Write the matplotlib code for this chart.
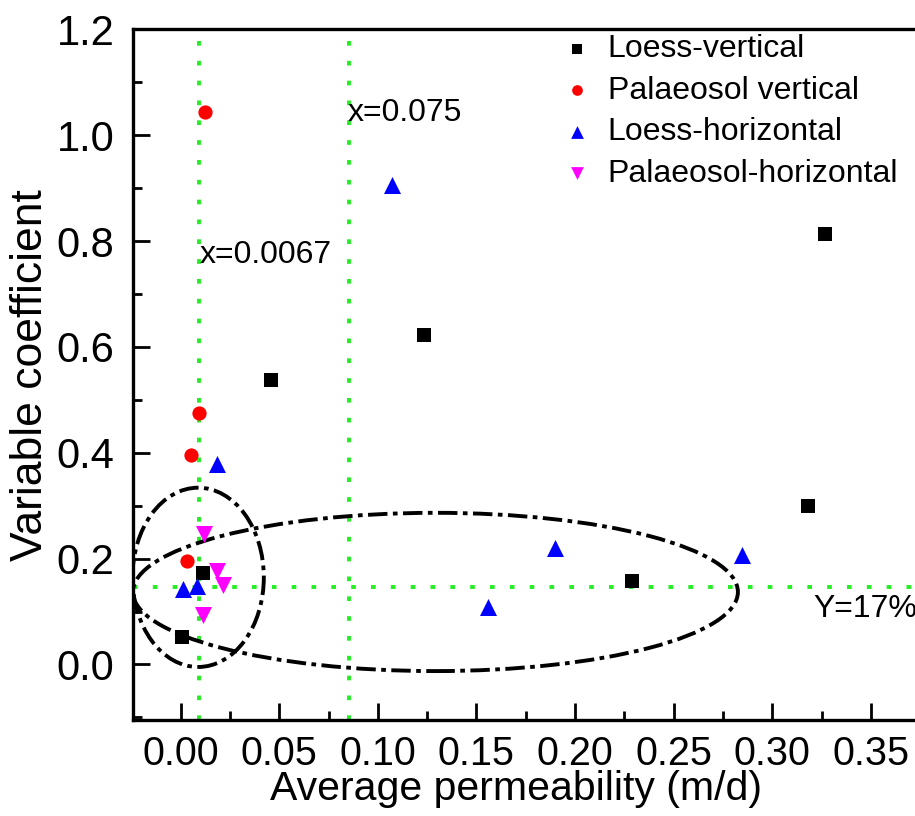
import matplotlib
matplotlib.use("Agg")
import matplotlib.pyplot as plt
from matplotlib.patches import Ellipse
from matplotlib.ticker import MultipleLocator, FormatStrFormatter

plt.rcParams['font.family'] = ['Liberation Sans', 'DejaVu Sans']

# ---- data ----
loess_v_x = [0.0458, 0.1234, 0.3267, 0.3183, 0.2287, 0.0113, 0.0005]
loess_v_y = [0.538, 0.623, 0.813, 0.300, 0.157, 0.173, 0.052]

palaeo_v_x = [0.0123, 0.0093, 0.0051, 0.0030]
palaeo_v_y = [1.044, 0.476, 0.395, 0.196]

loess_h_x = [0.1070, 0.0184, 0.1898, 0.1557, 0.2845, 0.0013, 0.0084]
loess_h_y = [0.905, 0.378, 0.220, 0.109, 0.207, 0.143, 0.149]

palaeo_h_x = [0.0118, 0.0183, 0.0215, 0.0112]
palaeo_h_y = [0.247, 0.177, 0.150, 0.094]

series_labels = ["Loess-vertical", "Palaeosol vertical",
                 "Loess-horizontal", "Palaeosol-horizontal"]

# reference lines as drawn in the picture
vline_x = [0.0093, 0.0853]
hline_y = [0.146]
vline_text = ["x=0.0067", "x=0.075"]
hline_text = ["Y=17%"]

x_ticks = [0.00, 0.05, 0.10, 0.15, 0.20, 0.25, 0.30, 0.35]
y_ticks = [0.0, 0.2, 0.4, 0.6, 0.8, 1.0, 1.2]

# ---- figure ----
fig = plt.figure(figsize=(9.15, 8.16), dpi=100)
ax = fig.add_axes([0.145, 0.1176, 0.855, 0.8465])
ax.set_xlim(-0.0243, 0.3724)
ax.set_ylim(-0.105, 1.2)

green = '#22ee22'
gstyle = (0, (1.2, 3.9))
for xv in vline_x:
    ax.axvline(xv, color=green, lw=2.8, ls=gstyle, zorder=1)
for yv in hline_y:
    ax.axhline(yv, color=green, lw=2.8, ls=gstyle, zorder=1)

# ellipses (dash-dot)
estyle = (0, (5.0, 1.4, 1.2, 1.4))
ax.add_patch(Ellipse((0.0089, 0.1646), 0.0666, 0.3387, fill=False,
                     edgecolor='black', lw=2.8, ls=estyle, zorder=2))
ax.add_patch(Ellipse((0.1292, 0.137), 0.3068, 0.299, fill=False,
                     edgecolor='black', lw=2.8, ls=estyle, zorder=2))

ax.scatter(loess_v_x, loess_v_y, marker='s', s=95, color='black',
           label=series_labels[0], zorder=3, linewidths=0)
ax.scatter(palaeo_v_x, palaeo_v_y, marker='o', s=105, color='red',
           label=series_labels[1], zorder=3, linewidths=0)
ax.scatter(loess_h_x, loess_h_y, marker='^', s=150, color='blue',
           label=series_labels[2], zorder=3, linewidths=0)
ax.scatter(palaeo_h_x, palaeo_h_y, marker='v', s=150, color='#ff00ff',
           label=series_labels[3], zorder=3, linewidths=0)

# annotations
ax.text(0.0098, 0.759, vline_text[0], fontsize=23, ha='left', va='baseline')
ax.text(0.0848, 1.027, vline_text[1], fontsize=23, ha='left', va='baseline')
ax.text(0.3206, 0.0904, hline_text[0], fontsize=23, ha='left', va='baseline',
        clip_on=False)

# axes styling
ax.spines['right'].set_visible(False)
for sp in ['left', 'bottom', 'top']:
    ax.spines[sp].set_linewidth(2.4)
ax.set_xticks(x_ticks)
ax.set_yticks(y_ticks)
ax.xaxis.set_minor_locator(MultipleLocator(0.025))
ax.yaxis.set_minor_locator(MultipleLocator(0.1))
ax.xaxis.set_major_formatter(FormatStrFormatter('%.2f'))
ax.yaxis.set_major_formatter(FormatStrFormatter('%.1f'))
ax.tick_params(which='both', direction='in', width=2, top=False, right=False)
ax.tick_params(which='major', length=12)
ax.tick_params(which='minor', length=6.5)
ax.tick_params(axis='y', which='major', pad=13, labelsize=30)
ax.tick_params(axis='x', which='major', pad=11, labelsize=28.5)

ax.set_xlabel("Average permeability (m/d)", fontsize=29.5)
ax.xaxis.label.set_va('baseline')
ax.xaxis.set_label_coords(516 / 915, 16 / 816, transform=fig.transFigure)
ax.set_ylabel("Variable coefficient", fontsize=32, labelpad=4)

leg = ax.legend(loc='upper left', bbox_to_anchor=(0.547, 0.993), frameon=False,
                fontsize=23, handlelength=1.0, handletextpad=0.47,
                borderpad=0, borderaxespad=0, labelspacing=0.36,
                markerscale=0.75, scatterpoints=1)

fig.savefig("out.png", dpi=100)
